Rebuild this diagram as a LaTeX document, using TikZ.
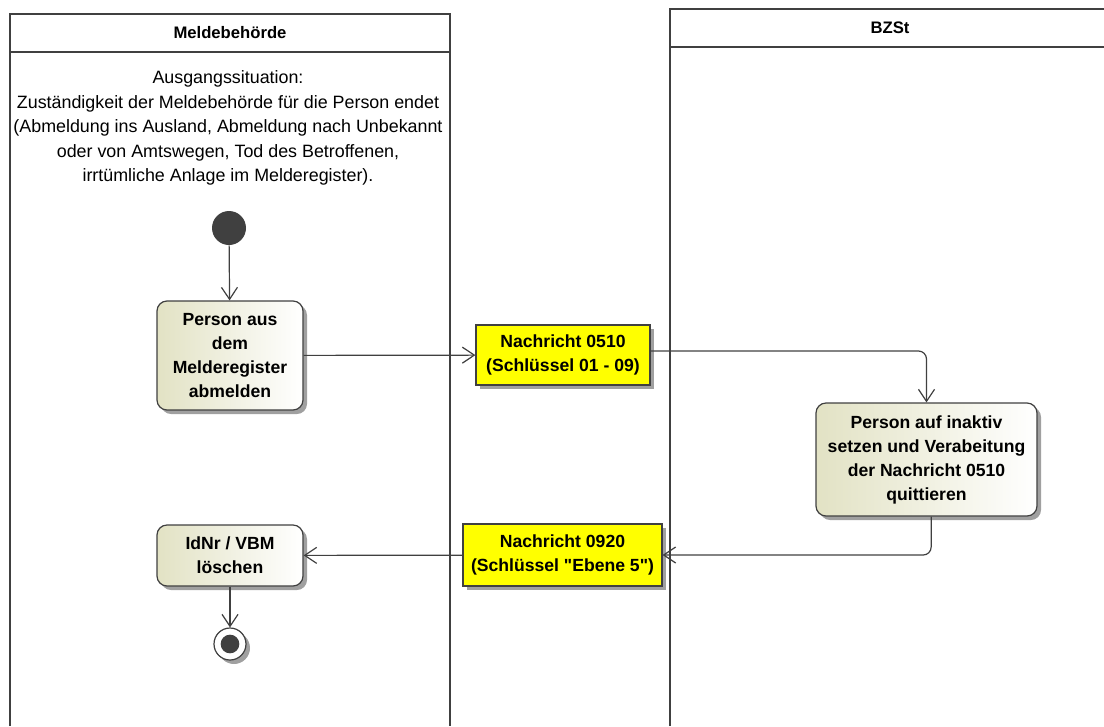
\documentclass[tikz,border=0pt]{standalone}
\usepackage{fontspec}
\setmainfont{Liberation Sans}
\usetikzlibrary{arrows.meta,shadows}

\definecolor{umlline}{RGB}{64,64,64}
\definecolor{umlact}{RGB}{226,226,196}
\definecolor{umlmsg}{RGB}{255,255,0}
\definecolor{umlshadow}{RGB}{160,160,160}

\tikzset{
  lane/.style={draw=umlline, line width=2pt},
  lanetitle/.style={inner sep=0.75pt, font=\bfseries\fontsize{12.5}{18}\selectfont},
  umlshade/.style={drop shadow={fill=umlshadow, opacity=1, shadow xshift=3pt, shadow yshift=-3pt}},
  activity/.style={draw=umlline, line width=0.9pt, rounded corners=7.5pt, left color=umlact, right color=white,
    align=center, inner sep=2pt, font=\bfseries\fontsize{13.2}{18}\selectfont, umlshade},
  message/.style={draw=umlline, line width=0.9pt, fill=umlmsg, align=center, inner sep=2pt,
    font=\bfseries\fontsize{13.2}{18}\selectfont, umlshade},
  initial/.style={circle, fill=umlline, minimum size=25.5pt, inner sep=0pt},
  final/.style={circle, draw=umlline, fill=white, line width=0.9pt, minimum size=24pt, inner sep=0pt, umlshade},
  flow/.style={draw=umlline, line width=0.9pt, -{Straight Barb[length=9pt,width=12pt,line width=0.9pt]}},
}

\begin{document}
\begin{tikzpicture}[x=0.75pt,y=0.75pt,yscale=-1,xscale=1]
\path[use as bounding box] (0,0) rectangle (1104,726);

%Swimlanes
\draw[lane] (10,726) -- (10,14) -- (450,14) -- (450,726) ;
\draw[lane] (10,52) -- (450,52) ;
\draw[lane] (670,726) -- (670,9) -- (1104,9) ;
\draw[lane] (670,47) -- (1104,47) ;

% Text Node
\draw (230,33) node [lanetitle] (meldetitel) {Meldebehörde};
% Text Node
\draw (890,28) node [lanetitle] (bzsttitel) {BZSt};
% Text Node
\draw (228,128) node [inner sep=0.75pt, align=center, font=\fontsize{13.4}{18.4}\selectfont] (situation) {Ausgangssituation:\\
Zuständigkeit der Meldebehörde für die Person endet\\
(Abmeldung ins Ausland, Abmeldung nach Unbekannt\\
oder von Amtswegen, Tod des Betroffenen,\\
irrtümliche Anlage im Melderegister).};

%Start and end
\draw (229,228) node [initial] (start) {};
\draw (230,644) node [final] (ende) {};
\fill[umlline] (ende.center) circle [radius=7pt];

%Activities
\draw (230,355.5) node [activity, minimum width=109.5pt, minimum height=81.75pt] (abmelden) {Person aus\\dem\\Melderegister\\abmelden};
\draw (926.5,459.5) node [activity, minimum width=165.75pt, minimum height=84.75pt] (inaktiv) {Person auf inaktiv\\setzen und Verabeitung\\der Nachricht 0510\\quittieren};
\draw (230,555.5) node [activity, minimum width=109.5pt, minimum height=45.75pt] (loeschen) {IdNr / VBM\\löschen};

%Messages
\draw (563,355) node [message, minimum width=130.5pt, minimum height=45pt] (msgfuenf) {Nachricht 0510\\(Schlüssel 01 - 09)};
\draw (562.5,555) node [message, minimum width=149.25pt, minimum height=46.5pt] (msgneun) {Nachricht 0920\\(Schlüssel \textquotedbl Ebene 5\textquotedbl)};

%Connectors
\draw[flow] (start) -- (abmelden) ;
\draw[flow] (abmelden) -- (msgfuenf) ;
\draw[flow, rounded corners=6pt] ([yshift=-3pt]msgfuenf.east) -| (inaktiv.north) ;
\draw[flow, rounded corners=6pt] ([xshift=3.5pt]inaktiv.south) |- (msgneun.east) ;
\draw[flow] (msgneun) -- (loeschen) ;
\draw[flow] (loeschen) -- (ende) ;

\end{tikzpicture}
\end{document}
